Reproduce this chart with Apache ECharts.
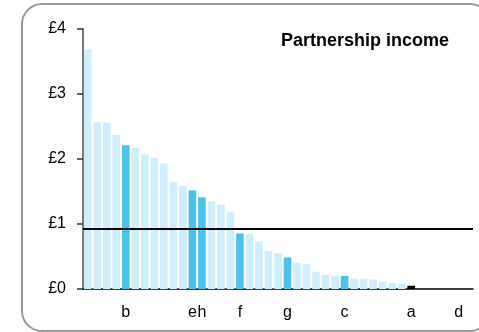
<!DOCTYPE html>
<html>
<head>
<meta charset="utf-8">
<script src="https://cdn.jsdelivr.net/npm/echarts@6/dist/echarts.min.js"></script>
<style>
  html, body { margin: 0; padding: 0; background: #fff; }
  #chart { width: 479px; height: 332px; }
</style>
</head>
<body>
<div id="chart"></div>
<script>
// Etiquetas del eje X (solo algunas categorías están nombradas)
const categorias = ['', '', '', '', 'b', '', '', '', '', '', '', 'e', 'h', '', '', '', 'f', '', '', '', '',
    'g', '', '', '', '', '', 'c', '', '', '', '', '', '', 'a', '', '', '', '', 'd', ''];

// Ingresos por categoría (£)
const valores = [3.69, 2.57, 2.56, 2.37, 2.21, 2.17, 2.07, 2.02, 1.93, 1.65, 1.59, 1.52, 1.41, 1.35, 1.30,
    1.18, 0.855, 0.85, 0.73, 0.585, 0.55, 0.486, 0.405, 0.385, 0.266, 0.215, 0.20, 0.20, 0.158, 0.158,
    0.148, 0.112, 0.092, 0.08, 0.05, 0, 0, 0, 0, 0, 0];

// Tipo de barra: 0 = claro, 1 = destacado, 2 = negro
const tipos = [0, 0, 0, 0, 1, 0, 0, 0, 0, 0, 0, 1, 1, 0, 0, 0, 1, 0, 0, 0, 0,
    1, 0, 0, 0, 0, 0, 1, 0, 0, 0, 0, 0, 0, 2, 0, 0, 0, 0, 0, 0];

const promedio = 0.93;
const colores = ['#cdeefa', '#4bc2eb', '#000000'];

const grafico = echarts.init(document.getElementById('chart'));
grafico.setOption({
    animation: false,
    textStyle: { fontFamily: 'Liberation Sans, Arial, sans-serif' },
    title: {
        text: 'Partnership income',
        left: 276,
        top: 27,
        textStyle: { fontSize: 18, fontWeight: 'bold', color: '#000' }
    },
    graphic: [{
        type: 'rect',
        shape: { x: 22, y: 4, width: 468, height: 327, r: 20 },
        style: { fill: 'none', stroke: '#999', lineWidth: 2 },
        z: -1
    }],
    grid: { left: 83, right: 6, top: 29, bottom: 43 },
    xAxis: {
        type: 'category',
        data: categorias,
        axisLine: { lineStyle: { color: '#000', width: 1.5 } },
        axisTick: { show: false },
        axisLabel: { interval: 0, margin: 16, fontSize: 16, color: '#000' }
    },
    yAxis: {
        type: 'value',
        min: 0,
        max: 4,
        interval: 1,
        splitLine: { show: false },
        axisLine: { show: true, lineStyle: { color: '#777', width: 2 } },
        axisTick: { show: true, length: 6, lineStyle: { color: '#333', width: 1.5 } },
        axisLabel: { margin: 17, fontSize: 16, color: '#000', formatter: v => '£' + v }
    },
    series: [{
        type: 'bar',
        barCategoryGap: '20%',
        data: valores.map((v, i) => ({ value: v, itemStyle: { color: colores[tipos[i]] } })),
        markLine: {
            silent: true,
            symbol: 'none',
            label: { show: false },
            lineStyle: { color: '#000', width: 2, type: 'solid' },
            data: [{ yAxis: promedio }]
        }
    }]
});
</script>
</body>
</html>
